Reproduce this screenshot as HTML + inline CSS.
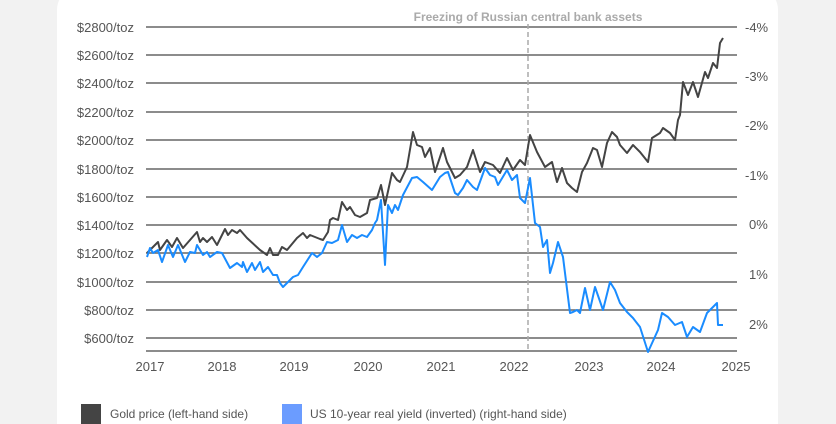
<!DOCTYPE html>
<html><head><meta charset="utf-8"><style>
html,body{margin:0;padding:0;width:836px;height:424px;overflow:hidden;background:#f2f2f2;font-family:"Liberation Sans",sans-serif}
.card{position:absolute;left:57px;top:-14px;width:721px;height:438px;background:#fff;border-radius:24px 24px 0 0}
</style></head><body>
<div class="card"></div>
<svg width="836" height="424" style="position:absolute;left:0;top:0" font-family="Liberation Sans, sans-serif">
<g stroke="#666" stroke-width="1.5">
<line x1="146" x2="737" y1="27" y2="27"/><line x1="146" x2="737" y1="55" y2="55"/><line x1="146" x2="737" y1="83" y2="83"/><line x1="146" x2="737" y1="112" y2="112"/><line x1="146" x2="737" y1="140" y2="140"/><line x1="146" x2="737" y1="169" y2="169"/><line x1="146" x2="737" y1="197" y2="197"/><line x1="146" x2="737" y1="225" y2="225"/><line x1="146" x2="737" y1="253" y2="253"/><line x1="146" x2="737" y1="282" y2="282"/><line x1="146" x2="737" y1="310" y2="310"/><line x1="146" x2="737" y1="338" y2="338"/><line x1="146" x2="737" y1="351" y2="351"/>
</g>
<line x1="528" x2="528" y1="24" y2="351" stroke="#aaa" stroke-width="1.5" stroke-dasharray="5,3"/>
<text x="528" y="21" text-anchor="middle" font-size="12" font-weight="bold" fill="#aaa">Freezing of Russian central bank assets</text>
<g font-size="13" fill="#555" text-anchor="end">
<text x="134" y="32">$2800/toz</text><text x="134" y="60">$2600/toz</text><text x="134" y="88">$2400/toz</text><text x="134" y="117">$2200/toz</text><text x="134" y="145">$2000/toz</text><text x="134" y="174">$1800/toz</text><text x="134" y="202">$1600/toz</text><text x="134" y="230">$1400/toz</text><text x="134" y="258">$1200/toz</text><text x="134" y="287">$1000/toz</text><text x="134" y="315">$800/toz</text><text x="134" y="343">$600/toz</text>
</g>
<g font-size="13" fill="#555">
<text x="745" y="32">-4%</text><text x="745" y="81">-3%</text><text x="745" y="130">-2%</text><text x="745" y="180">-1%</text><text x="749" y="229">0%</text><text x="749" y="279">1%</text><text x="749" y="329">2%</text>
</g>
<g font-size="13" fill="#555" text-anchor="middle">
<text x="150" y="371">2017</text><text x="222" y="371">2018</text><text x="294" y="371">2019</text><text x="368" y="371">2020</text><text x="441" y="371">2021</text><text x="514" y="371">2022</text><text x="589" y="371">2023</text><text x="661" y="371">2024</text><text x="736" y="371">2025</text>
</g>
<polyline fill="none" stroke="#444" stroke-width="2" stroke-linejoin="round" points="147,253 153,247 158,242 160,250 167,240 172,247 177,238 183,248 197,232 200,242 203,238 207,242 212,237 217,245 225,229 228,235 232,230 237,233 240,230 247,238 260,250 267,255 270,248 273,255 278,255 282,247 287,250 297,238 303,233 307,238 310,235 320,239 323,240 328,232 330,220 333,218 338,220 342,202 347,210 350,207 355,215 360,217 367,213 370,200 377,198 381,185 385,205 392,173 397,180 400,182 407,167 413,132 417,145 422,147 425,157 430,148 435,172 443,148 447,162 455,178 460,175 467,167 473,150 480,172 485,162 493,165 500,173 507,158 513,170 520,160 525,165 530,135 537,152 545,167 552,162 557,182 562,168 567,183 572,188 577,192 582,172 587,163 593,148 597,150 602,167 607,143 612,132 617,137 620,145 627,153 633,145 640,152 648,162 652,138 660,133 663,128 670,133 675,140 678,120 680,115 683,82 688,95 693,82 698,97 705,72 708,78 713,63 717,68 720,43 723,38"/>
<polyline fill="none" stroke="#1a8cff" stroke-width="2" stroke-linejoin="round" points="147,257 150,248 153,253 158,250 162,262 168,245 173,257 178,245 185,262 190,252 195,253 197,245 203,255 207,252 210,257 217,252 222,253 230,268 237,263 242,267 243,262 247,272 252,263 255,270 260,262 263,272 268,267 273,275 277,275 280,283 283,287 287,283 293,277 298,275 303,267 312,253 317,257 322,253 327,242 332,243 338,240 342,225 347,242 352,235 357,238 362,235 367,237 372,230 375,223 377,220 381,200 385,265 388,205 392,213 395,205 398,210 403,195 412,178 417,177 423,182 432,190 440,177 445,173 448,172 455,193 458,195 463,188 467,180 473,187 477,190 485,168 490,175 495,177 498,185 507,170 512,180 517,175 520,198 525,203 530,178 535,223 540,227 543,247 547,240 550,273 553,263 558,242 563,257 570,313 573,312 577,310 580,313 585,288 590,310 595,287 603,310 610,282 615,290 620,303 627,312 633,318 640,327 648,352 658,330 662,313 668,317 675,325 682,322 687,337 693,327 700,332 707,313 717,303 718,325 723,325"/>
<rect x="81" y="404" width="20" height="20" fill="#444"/>
<text x="110" y="418" font-size="12" fill="#555">Gold price (left-hand side)</text>
<rect x="282" y="404" width="20" height="20" fill="#6b9cff"/>
<text x="310" y="418" font-size="12" fill="#555">US 10-year real yield (inverted) (right-hand side)</text>
</svg>
</body></html>
